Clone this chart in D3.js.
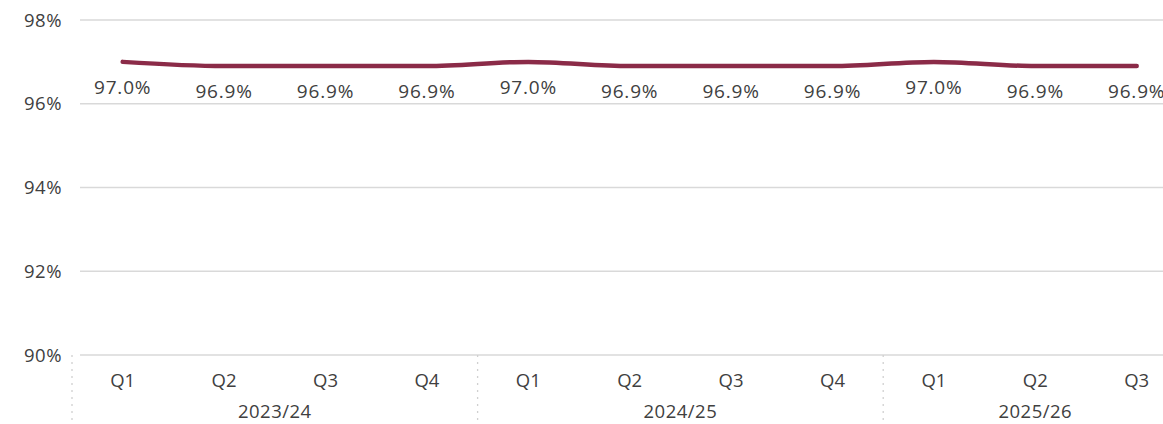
<!DOCTYPE html>
<html>
<head>
<meta charset="utf-8">
<script src="https://cdn.jsdelivr.net/npm/d3@7"></script>
<style>
html,body{margin:0;padding:0;background:#fff;}
svg{display:block;}
text{font-family:"Open Sans",sans-serif;fill:#404040;}
</style>
</head>
<body>
<svg id="chart" width="1163" height="424"></svg>
<script>
const quarters = ["Q1","Q2","Q3","Q4","Q1","Q2","Q3","Q4","Q1","Q2","Q3"];
const years = ["2023/24","2024/25","2025/26"];
const yearOf = [0,0,0,0,1,1,1,1,2,2,2];
const values = [97.0,96.9,96.9,96.9,97.0,96.9,96.9,96.9,97.0,96.9,96.9];
const yTicks = [90,92,94,96,98];

const svg = d3.select("#chart");
const W = 1163, H = 424;
const left = 72, step = 101.4;
const x = d3.scaleBand().domain(d3.range(quarters.length)).range([left, left + step*quarters.length]).padding(0);
const y = d3.scaleLinear().domain([90,98]).range([355,20]);
const gridLeft = 80;

// gridlines
svg.append("g").selectAll("line").data(yTicks).join("line")
  .attr("x1", gridLeft).attr("x2", W)
  .attr("y1", d=>y(d)).attr("y2", d=>y(d))
  .attr("stroke", "#d9d9d9").attr("stroke-width", 1.3);

// y labels
svg.append("g").selectAll("text").data(yTicks).join("text")
  .attr("x", 62).attr("y", d=>y(d)).attr("dy","0.36em")
  .attr("text-anchor","end").style("font-size","18.5px").style("letter-spacing","0.5px")
  .text(d=>d+"%");

// group separators
const sepIdx = [0,4,8];
svg.append("g").selectAll("line").data(sepIdx).join("line")
  .attr("x1", d=>x(d)).attr("x2", d=>x(d))
  .attr("y1", y(90)).attr("y2", H)
  .attr("stroke","#d0d0d0").attr("stroke-width",1.3).attr("stroke-dasharray","2,5");

// quarter labels
svg.append("g").selectAll("text").data(quarters).join("text")
  .attr("x", (d,i)=>x(i)+x.bandwidth()/2).attr("y", 387)
  .attr("text-anchor","middle").style("font-size","18.5px")
  .text(d=>d);

// year labels (centred over the quarters of each year)
const yearCenters = years.map((yr,k)=>{
  const idx = d3.range(quarters.length).filter(i=>yearOf[i]===k);
  return x(idx[0]) + step*idx.length/2;
});
svg.append("g").selectAll("text").data(years).join("text")
  .attr("x", (d,k)=>yearCenters[k]).attr("y", 418)
  .attr("text-anchor","middle").style("font-size","18.5px").style("letter-spacing","0.5px")
  .text(d=>d);

// line
const line = d3.line()
  .x((d,i)=>x(i)+x.bandwidth()/2)
  .y(d=>y(d))
  .curve(d3.curveMonotoneX);
svg.append("path").datum(values)
  .attr("d", line).attr("fill","none")
  .attr("stroke","#8b2b48").attr("stroke-width",4.5)
  .attr("stroke-linecap","round").attr("stroke-linejoin","round");

// data labels
svg.append("g").selectAll("text").data(values).join("text")
  .attr("x", (d,i)=>x(i)+x.bandwidth()/2).attr("y", d=>y(d)+32)
  .attr("text-anchor","middle").style("font-size","19px").style("letter-spacing","0.8px")
  .text(d=>d.toFixed(1)+"%");
</script>
</body>
</html>
